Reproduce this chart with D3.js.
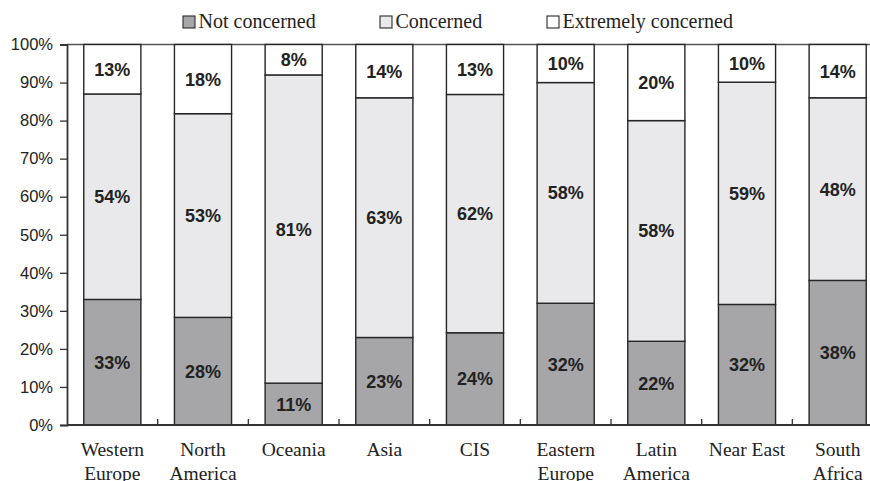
<!DOCTYPE html>
<html>
<head>
<meta charset="utf-8">
<script src="https://cdn.jsdelivr.net/npm/d3@7"></script>
<style>
  body { margin: 0; background: #fff; }
  svg { display: block; }
</style>
</head>
<body>
<script>
let width = 870,
    height = 481,
    margin = ({top: 44.5, right: -13, bottom: 56, left: 67});

// data
let categories = ["Western\nEurope", "North\nAmerica", "Oceania", "Asia", "CIS",
                  "Eastern\nEurope", "Latin\nAmerica", "Near East", "South\nAfrica"];
let notConcerned = [33, 28, 11, 23, 24, 32, 22, 32, 38];
let concerned    = [54, 53, 81, 63, 62, 58, 58, 59, 48];
let extremely    = [13, 18, 8, 14, 13, 10, 20, 10, 14];
let seriesNames  = ["Not concerned", "Concerned", "Extremely concerned"];
let yTicks = [0, 0.1, 0.2, 0.3, 0.4, 0.5, 0.6, 0.7, 0.8, 0.9, 1];

let colors = ["#a6a6a9", "#e9e9eb", "#ffffff"];
let legendX = [183, 380, 547];

let rows = categories.map((c, i) => ({
    name: c,
    "Not concerned": notConcerned[i],
    "Concerned": concerned[i],
    "Extremely concerned": extremely[i]
}));

let series = d3.stack()
    .keys(seriesNames)
    .offset(d3.stackOffsetExpand)(rows);

let x = d3.scaleBand()
    .domain(categories)
    .range([margin.left, width - margin.right])
    .paddingInner(0.37)
    .paddingOuter(0.185);

let y = d3.scaleLinear()
    .domain([0, 1])
    .range([height - margin.bottom, margin.top]);

const svg = d3.select("body").append("svg")
    .attr("width", width)
    .attr("height", height)
    .attr("viewBox", [0, 0, width, height]);

// top frame line
svg.append("line")
    .attr("x1", margin.left).attr("x2", width - margin.right)
    .attr("y1", y(1)).attr("y2", y(1))
    .attr("stroke", "#555").attr("stroke-width", 1.6);

// bars
svg.append("g")
  .selectAll("g")
  .data(series)
  .join("g")
    .attr("fill", (d, i) => colors[i])
  .selectAll("rect")
  .data(d => d)
  .join("rect")
    .attr("x", d => x(d.data.name))
    .attr("y", d => y(d[1]))
    .attr("height", d => y(d[0]) - y(d[1]))
    .attr("width", x.bandwidth())
    .attr("stroke", "#262626")
    .attr("stroke-width", 1.4);

// value labels
svg.append("g")
    .attr("font-family", "'Liberation Sans', Arial, sans-serif")
    .attr("font-weight", "bold")
    .attr("font-size", 18)
    .attr("fill", "#222")
    .attr("text-anchor", "middle")
  .selectAll("g")
  .data(series)
  .join("g")
  .selectAll("text")
  .data(d => d.map(v => Object.assign(v, {key: d.key})))
  .join("text")
    .attr("x", d => x(d.data.name) + x.bandwidth() / 2)
    .attr("y", d => (y(d[0]) + y(d[1])) / 2)
    .attr("dy", "0.36em")
    .text(d => d.data[d.key] + "%");

// y axis
let yAxis = g => g
    .attr("transform", `translate(${margin.left},0)`)
    .call(d3.axisLeft(y).tickValues(yTicks).tickFormat(d3.format(".0%")).tickSize(7).tickPadding(7))
    .call(g => g.select(".domain").attr("stroke", "#333").attr("stroke-width", 1.8))
    .call(g => g.selectAll(".tick line").attr("stroke", "#333").attr("stroke-width", 1.3))
    .call(g => g.selectAll(".tick text")
        .attr("font-family", "'Liberation Sans', Arial, sans-serif")
        .attr("font-size", 16.5)
        .attr("fill", "#222"));

svg.append("g").call(yAxis);

// x axis: baseline, inward ticks between categories, two-line labels
let gx = svg.append("g");
gx.append("line")
    .attr("x1", margin.left).attr("x2", width - margin.right)
    .attr("y1", y(0)).attr("y2", y(0))
    .attr("stroke", "#333").attr("stroke-width", 1.8);

let gap = (x.step() - x.bandwidth()) / 2;
gx.selectAll(".sep")
  .data(categories.slice(1))
  .join("line")
    .attr("class", "sep")
    .attr("x1", d => x(d) - gap).attr("x2", d => x(d) - gap)
    .attr("y1", y(0)).attr("y2", y(0) - 6)
    .attr("stroke", "#333").attr("stroke-width", 1.3);

gx.selectAll(".cat")
  .data(categories)
  .join("text")
    .attr("class", "cat")
    .attr("font-family", "'Liberation Serif', 'Times New Roman', serif")
    .attr("font-size", 19.5)
    .attr("fill", "#222")
    .attr("text-anchor", "middle")
  .selectAll("tspan")
  .data(d => d.split("\n").map(t => ({t, c: d})))
  .join("tspan")
    .attr("x", d => x(d.c) + x.bandwidth() / 2)
    .attr("y", (d, i) => y(0) + 31 + i * 24)
    .text(d => d.t);

// legend
let legend = svg.append("g")
  .selectAll("g")
  .data(seriesNames)
  .join("g")
    .attr("transform", (d, i) => `translate(${legendX[i]},16)`);

legend.append("rect")
    .attr("width", 12).attr("height", 12)
    .attr("fill", (d, i) => colors[i])
    .attr("stroke", "#2b2b2b").attr("stroke-width", 1.1);

legend.append("text")
    .attr("x", 15.5)
    .attr("y", 11.5)
    .attr("font-family", "'Liberation Serif', 'Times New Roman', serif")
    .attr("font-size", 20)
    .attr("fill", "#222")
    .text(d => d);
</script>
</body>
</html>
